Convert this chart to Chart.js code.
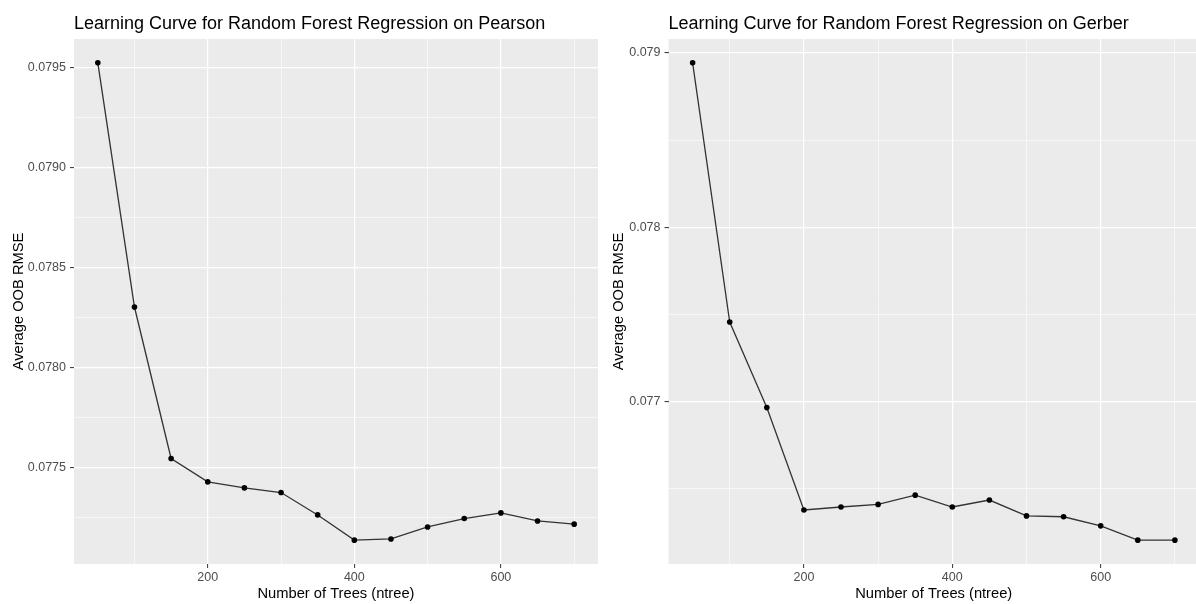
<!DOCTYPE html>
<html>
<head>
<meta charset="utf-8">
<script src="https://cdn.jsdelivr.net/npm/chart.js@4/dist/chart.umd.min.js"></script>
<style>
  html, body { margin: 0; padding: 0; background: #fff; overflow: hidden; }
  #wrap { position: relative; width: 1196px; height: 604px; overflow: hidden; }
  #pearson { position: absolute; left: 0; top: 0; }
  #gerber { position: absolute; left: 600px; top: 0; }
</style>
</head>
<body>
<div id="wrap">
  <canvas id="pearson" width="600" height="604"></canvas>
  <canvas id="gerber" width="600" height="604"></canvas>
</div>
<script>
// number of trees tried and the averaged out-of-bag RMSE for each
var ntree = [50, 100, 150, 200, 250, 300, 350, 400, 450, 500, 550, 600, 650, 700];
var pearsonRmse = [0.079522, 0.078302, 0.077545, 0.077428, 0.077398, 0.077375, 0.077263,
                   0.077137, 0.077143, 0.077203, 0.077245, 0.077273, 0.077233, 0.077217];
var gerberRmse = [0.078943, 0.077457, 0.076966, 0.076379, 0.076396, 0.076411, 0.076464,
                  0.076396, 0.076436, 0.076345, 0.076340, 0.076288, 0.076206, 0.076206];

// axis breaks (major get labels, minor only a thin grid line)
var xMajor = [200, 400, 600];
var xMinor = [100, 300, 500, 700];
var pearsonYMajor = [0.0775, 0.0780, 0.0785, 0.0790, 0.0795];
var pearsonYMinor = [0.07725, 0.07775, 0.07825, 0.07875, 0.07925, 0.07975];
var gerberYMajor = [0.077, 0.078, 0.079];
var gerberYMinor = [0.0765, 0.0775, 0.0785];

var FONT = '"Liberation Sans", Arial, sans-serif';
var PANEL_BG = '#EBEBEB';

function buildTicks(major, minor) {
    var t = major.map(function (v) { return { value: v, minor: false }; })
        .concat(minor.map(function (v) { return { value: v, minor: true }; }));
    t.sort(function (a, b) { return a.value - b.value; });
    return t;
}

// ggplot-style 5% expansion around the data
function expand(values) {
    var lo = Math.min.apply(null, values), hi = Math.max.apply(null, values);
    var pad = (hi - lo) * 0.05;
    return { min: lo - pad, max: hi + pad };
}

var panelBg = {
    id: 'panelBg',
    beforeDraw: function (chart) {
        var a = chart.chartArea, ctx = chart.ctx;
        ctx.save();
        ctx.fillStyle = PANEL_BG;
        ctx.fillRect(a.left, a.top, a.right - a.left, a.bottom - a.top);
        ctx.restore();
    }
};

var panelTitle = {
    id: 'panelTitle',
    afterDraw: function (chart, args, opts) {
        var ctx = chart.ctx;
        ctx.save();
        ctx.font = '18px ' + FONT;
        ctx.fillStyle = '#000';
        ctx.textBaseline = 'alphabetic';
        ctx.textAlign = 'left';
        ctx.fillText(opts.text, chart.chartArea.left, 29);
        ctx.restore();
    }
};

function makePanel(id, title, values, yMajor, yMinor, decimals, axisWidth, plotRight) {
    var xTicks = buildTicks(xMajor, xMinor);
    var yTicks = buildTicks(yMajor, yMinor);
    var yRange = expand(values);
    var xRange = expand(ntree);

    var gridColor = function (c) { return '#FFFFFF'; };
    var gridWidth = function (c) { return c.tick && c.tick.minor ? 0.6 : 1.2; };
    var tickColor = function (c) { return c.tick && c.tick.minor ? 'rgba(0,0,0,0)' : '#333333'; };

    return new Chart(document.getElementById(id), {
        type: 'line',
        data: {
            datasets: [{
                data: ntree.map(function (n, i) { return { x: n, y: values[i] }; }),
                borderColor: '#333333',
                borderWidth: 1.3,
                pointRadius: 2.8,
                pointBackgroundColor: '#000000',
                pointBorderColor: '#000000',
                pointBorderWidth: 0,
                tension: 0
            }]
        },
        options: {
            responsive: false,
            animation: false,
            devicePixelRatio: 1,
            layout: { padding: { top: 39, right: 0, bottom: 0, left: 0 } },
            plugins: {
                legend: { display: false },
                tooltip: { enabled: false },
                panelTitle: { text: title }
            },
            scales: {
                x: {
                    type: 'linear',
                    min: xRange.min,
                    max: xRange.max,
                    afterBuildTicks: function (s) { s.ticks = xTicks.slice(); },
                    afterFit: function (s) { s.height = 40; },
                    border: { display: false },
                    grid: { color: gridColor, lineWidth: gridWidth, tickColor: tickColor, tickLength: 4, tickWidth: 1 },
                    ticks: {
                        autoSkip: false,
                        maxRotation: 0,
                        padding: 2,
                        color: '#4D4D4D',
                        font: { family: FONT, size: 12.5 },
                        callback: function (v, i) { return xTicks[i].minor ? '' : String(v); }
                    },
                    title: {
                        display: true,
                        text: 'Number of Trees (ntree)',
                        color: '#000',
                        font: { family: FONT, size: 14.7, lineHeight: 1.2 },
                        padding: { top: 0, bottom: 1 }
                    }
                },
                y: {
                    type: 'linear',
                    min: yRange.min,
                    max: yRange.max,
                    afterBuildTicks: function (s) { s.ticks = yTicks.slice(); },
                    afterFit: function (s) { s.width = axisWidth; },
                    border: { display: false },
                    grid: { color: gridColor, lineWidth: gridWidth, tickColor: tickColor, tickLength: 4, tickWidth: 1 },
                    ticks: {
                        autoSkip: false,
                        padding: 4,
                        color: '#4D4D4D',
                        font: { family: FONT, size: 12.5 },
                        callback: function (v, i) { return yTicks[i].minor ? '' : v.toFixed(decimals); }
                    },
                    title: {
                        display: true,
                        text: 'Average OOB RMSE',
                        color: '#000',
                        font: { family: FONT, size: 14.7, lineHeight: 1.2 },
                        padding: { top: 10, bottom: 0 }
                    }
                }
            }
        },
        plugins: [panelBg, panelTitle, {
            id: 'plotRight',
            afterLayout: function (chart) {
                // pin the right edge of the plotting panel
                var a = chart.chartArea;
                var xs = chart.scales.x;
                a.right = plotRight;
                xs.right = plotRight;
                xs.width = plotRight - xs.left;
                xs.configure();
            }
        }]
    });
}

makePanel('pearson', 'Learning Curve for Random Forest Regression on Pearson',
    pearsonRmse, pearsonYMajor, pearsonYMinor, 4, 74, 598);
makePanel('gerber', 'Learning Curve for Random Forest Regression on Gerber',
    gerberRmse, gerberYMajor, gerberYMinor, 3, 68.5, 599);
</script>
</body>
</html>
